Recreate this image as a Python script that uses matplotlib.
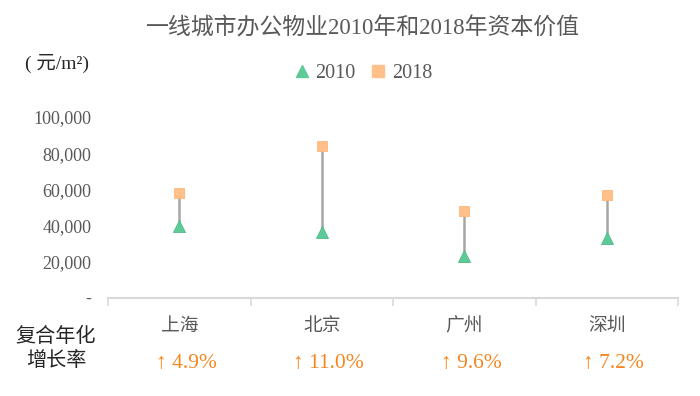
import matplotlib.pyplot as plt
from matplotlib.lines import Line2D
from matplotlib.ticker import FuncFormatter, FixedLocator

plt.rcParams['font.family'] = ['Liberation Serif', 'Noto Sans CJK SC']

cities = ['上海', '北京', '广州', '深圳']
v2010 = [39500, 36500, 23000, 32700]
v2018 = [58000, 84000, 47800, 57000]
growth = ['4.9%', '11.0%', '9.6%', '7.2%']

grey = '#595959'
green = '#5DCB97'
peach = '#FFC08A'
orange = '#F5861F'

fig = plt.figure(figsize=(7, 3.96), dpi=100)
ax = fig.add_axes([0.1543, 0.2487, 0.8143, 0.4558])

x = list(range(len(cities)))
ax.vlines(x, v2010, v2018, color='#A6A6A6', lw=1.8, zorder=1)
ax.scatter(x, v2010, marker='^', s=75, color=green, edgecolor='#4DBB87', lw=0.6, zorder=3)
ax.scatter(x, v2018, marker='s', s=55, color=peach, edgecolor='#FFB679', lw=0.6, zorder=3)

ax.set_xlim(-0.5, 3.5)
ax.set_ylim(0, 100000)
ax.set_yticks([0, 20000, 40000, 60000, 80000, 100000])
ax.yaxis.set_major_formatter(FuncFormatter(lambda v, p: '-' if v == 0 else f'{v:,.0f}'))
ax.tick_params(axis='y', length=0, labelsize=13, labelcolor=grey, pad=12)

ax.set_xticks(x)
ax.set_xticklabels(cities)
ax.xaxis.set_minor_locator(FixedLocator([-0.5, 0.5, 1.5, 2.5, 3.5]))
ax.tick_params(axis='x', which='major', length=0, labelsize=13.5, labelcolor=grey, pad=15)
ax.tick_params(axis='x', which='minor', length=6, width=1.2, color='#D9D9D9', direction='out')

for s in ['top', 'right', 'left']:
    ax.spines[s].set_visible(False)
ax.spines['bottom'].set_color('#D9D9D9')
ax.spines['bottom'].set_linewidth(1.5)

fig.text(0.518, 0.927, '一线城市办公物业2010年和2018年资本价值', ha='center', va='center',
         fontsize=16.5, color=grey)
fig.text(0.035, 0.84, '( 元/m²)', ha='left', va='center', fontsize=14, color='#262626')

handles = [
    Line2D([], [], marker='^', ls='none', color=green, markersize=9, label='2010'),
    Line2D([], [], marker='s', ls='none', color=peach, markersize=8, label='2018'),
]
fig.legend(handles=handles, loc='center', bbox_to_anchor=(0.517, 0.815), ncol=2,
           frameon=False, fontsize=14.5, labelcolor=grey, handletextpad=0.2,
           columnspacing=0.6, handlelength=1.0)

fig.text(0.08, 0.118, '复合年化\n增长率', ha='center', va='center', fontsize=14.5,
         color='#262626', linespacing=1.3)
for i, g in enumerate(growth):
    xf = (ax.transData + fig.transFigure.inverted()).transform((i, 0))[0]
    fig.text(xf + 0.01, 0.082, '↑ ' + g, ha='center', va='center', fontsize=15.5,
             color=orange)

fig.savefig('out.png', dpi=100)
